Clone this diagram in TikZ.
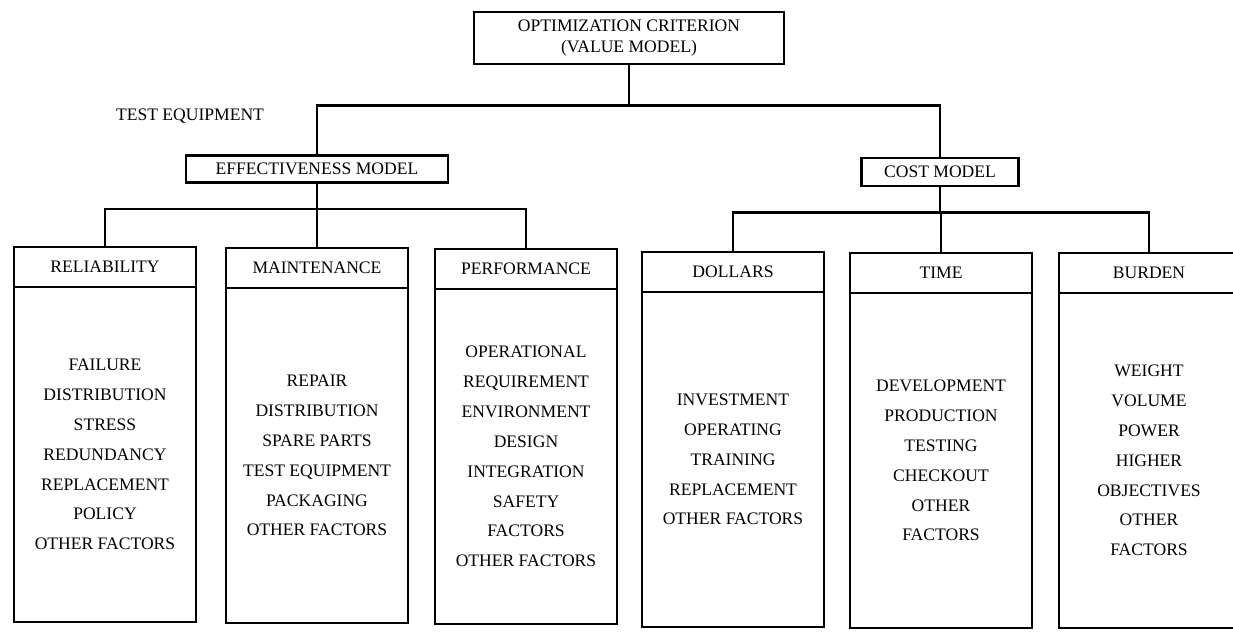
\documentclass[tikz,border=0pt]{standalone}
\usepackage{fontspec}
\setmainfont{Liberation Serif}
\usetikzlibrary{positioning}
\usetikzlibrary{calc}
\tikzset{
    % Boxes of the upper part of the model tree
    model box/.style={
        draw, line width=1.5pt, rectangle, align=center,
        font=\fontsize{10}{11.5}\selectfont},
%
    % Heading of a column of factors
    column head/.style={
        draw, line width=1.5pt, anchor=north, outer sep=0,
        minimum width=36.4mm, minimum height=8mm,
        font=\fontsize{10}{12}\selectfont},
%
    % The list of factors under its heading
    column body/.style={
        draw, line width=1.5pt, anchor=north, outer sep=0, align=center,
        minimum width=36.4mm, minimum height=67mm,
        font=\fontsize{10}{17}\selectfont},
%
    % Connecting lines of the tree
    tree line/.style={line width=1.5pt}}

\begin{document}
\begin{tikzpicture}

% Page layout

\useasboundingbox (0,0) rectangle (246.6mm,-126.6mm);

\node [model box, minimum width=62mm, minimum height=10.4mm]
    (criterion) at (125.8mm,-7.6mm)
    {OPTIMIZATION CRITERION\\(VALUE MODEL)};

\node [font=\fontsize{10}{12}\selectfont] (test label) at (38mm,-23.2mm)
    {TEST EQUIPMENT};

\node [model box, minimum width=52.4mm, minimum height=5.4mm]
    (effectiveness) at (63.4mm,-33.8mm) {EFFECTIVENESS MODEL};
\node [model box, minimum width=31.4mm, minimum height=5.6mm]
    (cost) at (188mm,-34.4mm) {COST MODEL};

% Effectiveness columns

\node [column head] (reliability) at (21mm,-49.4mm) {RELIABILITY};
\node [column body] (reliability list) at (reliability.south)
    {FAILURE\\DISTRIBUTION\\STRESS\\REDUNDANCY\\REPLACEMENT\\POLICY\\OTHER FACTORS};

\node [column head] (maintenance) at (63.4mm,-49.6mm) {MAINTENANCE};
\node [column body] (maintenance list) at (maintenance.south)
    {REPAIR\\DISTRIBUTION\\SPARE PARTS\\TEST EQUIPMENT\\PACKAGING\\OTHER FACTORS};

\node [column head] (performance) at (105.2mm,-49.8mm) {PERFORMANCE};
\node [column body] (performance list) at (performance.south)
    {OPERATIONAL\\REQUIREMENT\\ENVIRONMENT\\DESIGN\\INTEGRATION\\SAFETY\\FACTORS\\OTHER FACTORS};

% Cost columns

\node [column head] (dollars) at (146.6mm,-50.4mm) {DOLLARS};
\node [column body] (dollars list) at (dollars.south)
    {INVESTMENT\\OPERATING\\TRAINING\\REPLACEMENT\\OTHER FACTORS};

\node [column head] (time) at (188.2mm,-50.6mm) {TIME};
\node [column body] (time list) at (time.south)
    {DEVELOPMENT\\PRODUCTION\\TESTING\\CHECKOUT\\OTHER\\FACTORS};

% right edge runs off the page
\node [column head, minimum width=36mm] (burden) at (229.8mm,-50.6mm) {BURDEN};
\node [column body, minimum width=36mm] (burden list) at (burden.south)
    {WEIGHT\\VOLUME\\POWER\\HIGHER\\OBJECTIVES\\OTHER\\FACTORS};

% Tree connections

\draw [tree line] (criterion.south) -- ++(0,-8mm) coordinate (top bar);
\draw [tree line] (effectiveness.north) |- (top bar);
\draw [tree line] (cost.north) |- (top bar);

\draw [tree line] (effectiveness.south) -- ++(0,-5mm) coordinate (eff bar);
\draw [tree line] (reliability.north) |- (eff bar);
\draw [tree line] (maintenance.north) |- (eff bar);
\draw [tree line] (performance.north) |- (eff bar);

\draw [tree line] (cost.south) -- ++(0,-5mm) coordinate (cost bar);
\draw [tree line] (dollars.north) |- (cost bar);
\draw [tree line] (time.north) |- (cost bar);
\draw [tree line] (burden.north) |- (cost bar);

\end{tikzpicture}
\end{document}
